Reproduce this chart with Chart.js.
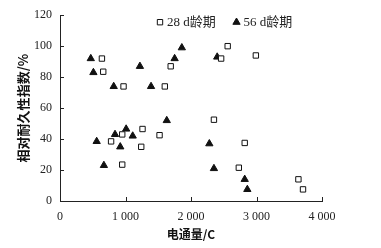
<!DOCTYPE html>
<html>
<head>
<meta charset="utf-8">
<script src="https://cdn.jsdelivr.net/npm/chart.js@4"></script>
<style>
  html, body { margin: 0; padding: 0; background: #fff; }
  #wrap { width: 381px; height: 248px; position: relative; }
</style>
</head>
<body>
<div id="wrap"><canvas id="c"></canvas></div>
<script>
// 28 d age: charge passed (C) and relative durability index (%)
const flux28 = [640, 660, 970, 1600, 1690, 2560, 2460, 2990, 2350, 1260, 1520, 950, 780, 1240, 950, 2820, 2730, 3640, 3710];
const index28 = [92, 83.5, 74, 74, 87, 100, 92, 94, 52.5, 46.5, 42.5, 43, 38.5, 35, 23.5, 37.5, 21.5, 14, 7.5];

// 56 d age
const flux56 = [470, 510, 820, 1220, 1390, 1750, 1860, 2400, 1630, 1010, 840, 1110, 560, 920, 670, 2280, 2350, 2820, 2860];
const index56 = [92, 83, 74, 87, 74, 92, 99, 93, 52, 46.5, 43, 42, 38.5, 35, 23, 37, 21, 14, 7.5];

const seriesLabels = ['28 d龄期', '56 d龄期'];
const xTicks = [0, 1000, 2000, 3000, 4000];
const yTicks = [0, 20, 40, 60, 80, 100, 120];

const serif = '"Liberation Serif", "Times New Roman", "Noto Sans CJK SC", serif';
const cjk = '"Noto Sans CJK SC", sans-serif';

function toPoints(xs, ys) {
  return xs.map((x, i) => ({ x: x, y: ys[i] }));
}

function fmtThousands(v) {
  return String(v).replace(/\B(?=(\d{3})+(?!\d))/g, ' ');
}

// ticks drawn pointing into the plot, like the original figure
const innerTicks = {
  id: 'innerTicks',
  afterDraw(chart) {
    const ctx = chart.ctx;
    const xs = chart.scales.x;
    const ys = chart.scales.y;
    const a = chart.chartArea;
    ctx.save();
    ctx.strokeStyle = '#222';
    ctx.lineWidth = 1;
    ctx.beginPath();
    xTicks.forEach(v => {
      const px = Math.round(xs.getPixelForValue(v)) + 0.5;
      ctx.moveTo(px, a.bottom);
      ctx.lineTo(px, a.bottom - 4);
    });
    yTicks.forEach(v => {
      const py = Math.round(ys.getPixelForValue(v)) + 0.5;
      ctx.moveTo(a.left, py);
      ctx.lineTo(a.left + 4, py);
    });
    ctx.stroke();
    ctx.restore();
  }
};

// legend sits inside the plot, upper middle
const insideLegend = {
  id: 'insideLegend',
  afterDraw(chart) {
    const ctx = chart.ctx;
    const a = chart.chartArea;
    const y = a.top + 7;
    const items = [
      { x: a.left + 100, style: 'rect', fill: '#fff' },
      { x: a.left + 176.5, style: 'triangle', fill: '#111' }
    ];
    ctx.save();
    items.forEach((it, i) => {
      ctx.lineWidth = 1;
      ctx.strokeStyle = '#111';
      ctx.fillStyle = it.fill;
      Chart.helpers.drawPoint(ctx, { pointStyle: it.style, radius: it.style === 'rect' ? 3.8 : 4.2, borderWidth: 1 }, it.x, y);
      ctx.fillStyle = '#222';
      ctx.font = '13px ' + serif;
      ctx.textBaseline = 'middle';
      ctx.fillText(seriesLabels[i], it.x + 7, y + 0.5);
    });
    ctx.restore();
  }
};

new Chart(document.getElementById('c'), {
  type: 'scatter',
  data: {
    datasets: [
      {
        label: seriesLabels[0],
        data: toPoints(flux28, index28),
        pointStyle: 'rect',
        pointRadius: 3.8,
        pointBorderWidth: 1,
        borderColor: '#111',
        backgroundColor: '#fff'
      },
      {
        label: seriesLabels[1],
        data: toPoints(flux56, index56),
        pointStyle: 'triangle',
        pointRadius: 4.2,
        pointBorderWidth: 1,
        borderColor: '#111',
        backgroundColor: '#111'
      }
    ]
  },
  options: {
    responsive: true,
    maintainAspectRatio: false,
    animation: false,
    layout: { padding: { left: 10, right: 59, top: 3, bottom: 0 } },
    plugins: {
      legend: { display: false },
      tooltip: { enabled: false }
    },
    scales: {
      x: {
        type: 'linear',
        min: 0,
        max: 4000,
        afterBuildTicks: s => { s.ticks = xTicks.map(v => ({ value: v })); },
        afterFit: s => { s.height = 47; },
        grid: { display: false, drawTicks: false },
        border: { display: true, color: '#222', width: 1 },
        ticks: {
          padding: 9,
          color: '#222',
          font: { family: serif, size: 12 },
          maxRotation: 0,
          callback: v => fmtThousands(v)
        },
        title: {
          display: true,
          text: '电通量/C',
          color: '#111',
          font: { family: cjk, size: 12, weight: 'bold' },
          padding: { top: 0, bottom: 6 }
        }
      },
      y: {
        type: 'linear',
        min: 0,
        max: 120,
        afterBuildTicks: s => { s.ticks = yTicks.map(v => ({ value: v })); },
        afterFit: s => { s.width = 50; },
        grid: { display: false, drawTicks: false },
        border: { display: true, color: '#222', width: 1 },
        ticks: {
          padding: 8,
          color: '#222',
          font: { family: serif, size: 12 }
        },
        title: {
          display: true,
          text: '相对耐久性指数/%',
          color: '#111',
          font: { family: cjk, size: 13, weight: 'bold' },
          padding: { top: 5, bottom: 0 }
        }
      }
    }
  },
  plugins: [innerTicks, insideLegend]
});
</script>
</body>
</html>
